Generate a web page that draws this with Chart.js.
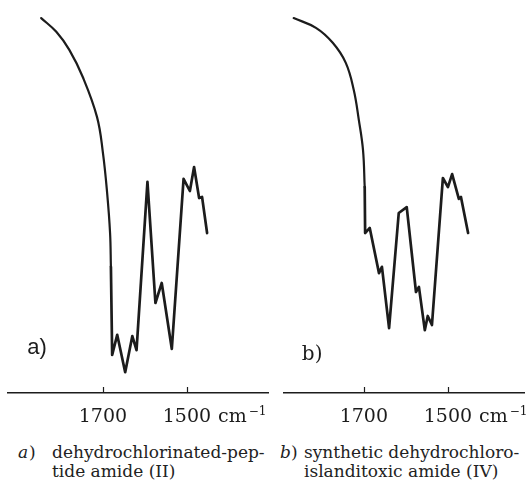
<!DOCTYPE html>
<html>
<head>
<meta charset="utf-8">
<script src="https://cdn.jsdelivr.net/npm/chart.js@4.4.1/dist/chart.umd.min.js"></script>
<style>
  body { margin: 0; background: #fff; }
  #wrap { position: relative; width: 532px; height: 487px; overflow: hidden; }
  canvas { position: absolute; top: 0; }
  #ca { left: 0; }
  #cb { left: 272px; }
  .cap { position: absolute; font-family: "DejaVu Serif", serif; font-size: 17px; line-height: 19px; color: #222; white-space: nowrap; }
  .cap i { position: absolute; }
  .cap .p { position: absolute; }
</style>
</head>
<body>
<div id="wrap">
  <canvas id="ca" width="272" height="430"></canvas>
  <canvas id="cb" width="260" height="430"></canvas>
  <div class="cap" style="left:52px; top:443px;"><i style="left:-34px">a</i><span class="p" style="left:-23px">)</span>dehydrochlorinated-pep-<br>tide amide (II)</div>
  <div class="cap" style="left:304px; top:443px;"><i style="left:-24px">b</i><span class="p" style="left:-13px">)</span>synthetic dehydrochloro-<br>islanditoxic amide (IV)</div>
</div>
<script>
// wavenumber ticks (cm-1)
const tickValues = [1700, 1500];

// a) dehydrochlorinated-peptide amide (II)
const aCurveWn = [1847, 1811, 1780, 1748, 1714, 1700, 1690, 1683, 1681];
const aCurveT  = [95.4, 91.9, 87.3, 80.4, 70.2, 61.1, 50.9, 40.7, 32.1];
const aBandWn  = [1681, 1678, 1666, 1647, 1630, 1620, 1594, 1575, 1560, 1536, 1508, 1493, 1483, 1471, 1464, 1452];
const aBandT   = [32.1, 9.7, 14.8, 5.3, 14.5, 10.9, 53.7, 22.9, 28.0, 11.2, 54.5, 51.4, 57.5, 49.6, 49.9, 40.7];

// b) synthetic dehydrochloro-islanditoxic amide (IV)
const bCurveWn = [1867, 1814, 1774, 1743, 1724, 1712, 1702, 1698];
const bCurveT  = [95.4, 92.9, 89.1, 84.0, 77.1, 69.5, 61.8, 52.4];
const bBandWn  = [1698, 1697, 1686, 1664, 1657, 1640, 1617, 1598, 1576, 1569, 1555, 1548, 1538, 1512, 1500, 1490, 1474, 1469, 1452];
const bBandT   = [52.4, 40.7, 42.0, 30.5, 32.1, 16.5, 45.8, 47.3, 25.7, 27.0, 16.0, 19.6, 17.3, 54.7, 52.4, 55.7, 49.4, 49.9, 40.7];

const ink = "#1c1c1c";

function toPoints(wn, t) {
  return wn.map((w, i) => ({ x: w, y: t[i] }));
}

// tick marks pointing up, the cm-1 unit and the panel tag
const spectrumDecor = {
  id: "spectrumDecor",
  afterDraw(chart, args, opts) {
    const ctx = chart.ctx;
    const xs = chart.scales.x;
    const ys = chart.scales.y;
    ctx.save();
    ctx.strokeStyle = ink;
    ctx.lineWidth = 1.2;
    tickValues.forEach(v => {
      const px = Math.round(xs.getPixelForValue(v)) + 0.5;
      ctx.beginPath();
      ctx.moveTo(px, xs.top);
      ctx.lineTo(px, xs.top - 6);
      ctx.stroke();
    });

    const item = xs.getLabelItems().find(i => i.label === "1500");
    if (item) {
      const [tx, ty] = item.options.translation;
      const y = ty + item.textOffset;
      ctx.fillStyle = ink;
      ctx.font = item.font.string;
      ctx.textBaseline = item.options.textBaseline;
      ctx.textAlign = "left";
      const ux = tx + ctx.measureText("1500").width / 2 + 7;
      ctx.fillText("cm", ux, y);
      const cw = ctx.measureText("cm").width;
      ctx.font = "12px 'DejaVu Serif', serif";
      ctx.fillText("\u22121", ux + cw + 2, y - 6);
    }

    ctx.font = opts.tagFont;
    ctx.fillStyle = ink;
    ctx.textAlign = "center";
    ctx.textBaseline = "middle";
    ctx.fillText(opts.tag, xs.getPixelForValue(opts.tagAt[0]), ys.getPixelForValue(opts.tagAt[1]));
    ctx.restore();
  }
};

function makeSpectrum(id, curve, bands, range, pad, tag, tagFont, tagAt) {
  new Chart(document.getElementById(id), {
    type: "line",
    data: {
      datasets: [
        { data: curve, tension: 0.4, borderWidth: 2.2 },
        { data: bands, tension: 0, borderWidth: 2.7 }
      ]
    },
    options: {
      responsive: false,
      animation: false,
      layout: { padding: { left: pad[0], right: pad[1], top: 0, bottom: 0 } },
      elements: {
        point: { radius: 0 },
        line: { borderColor: ink, borderJoinStyle: "round", borderCapStyle: "round" }
      },
      plugins: {
        legend: { display: false },
        tooltip: { enabled: false },
        spectrumDecor: { tag: tag, tagFont: tagFont, tagAt: tagAt }
      },
      scales: {
        x: {
          type: "linear",
          reverse: true,
          min: range[0],
          max: range[1],
          afterBuildTicks: s => { s.ticks = tickValues.map(v => ({ value: v })); },
          afterFit: s => { s.height = 37; },
          grid: { display: false },
          border: { display: true, color: ink, width: 1.4 },
          ticks: {
            color: ink,
            padding: 5,
            maxRotation: 0,
            font: { family: "'DejaVu Serif', serif", size: 19 },
            callback: v => String(v)
          }
        },
        y: { display: false, min: 0, max: 100 }
      }
    },
    plugins: [spectrumDecor]
  });
}

makeSpectrum("ca", toPoints(aCurveWn, aCurveT), toPoints(aBandWn, aBandT),
  [1307, 1926], [8, 4], "a)", "22px 'Liberation Sans', sans-serif", [1857, 11.5]);
makeSpectrum("cb", toPoints(bCurveWn, bCurveT), toPoints(bBandWn, bBandT),
  [1319, 1890], [12, 8], "b)", "20px 'DejaVu Serif', serif", [1823, 9.7]);
</script>
</body>
</html>
